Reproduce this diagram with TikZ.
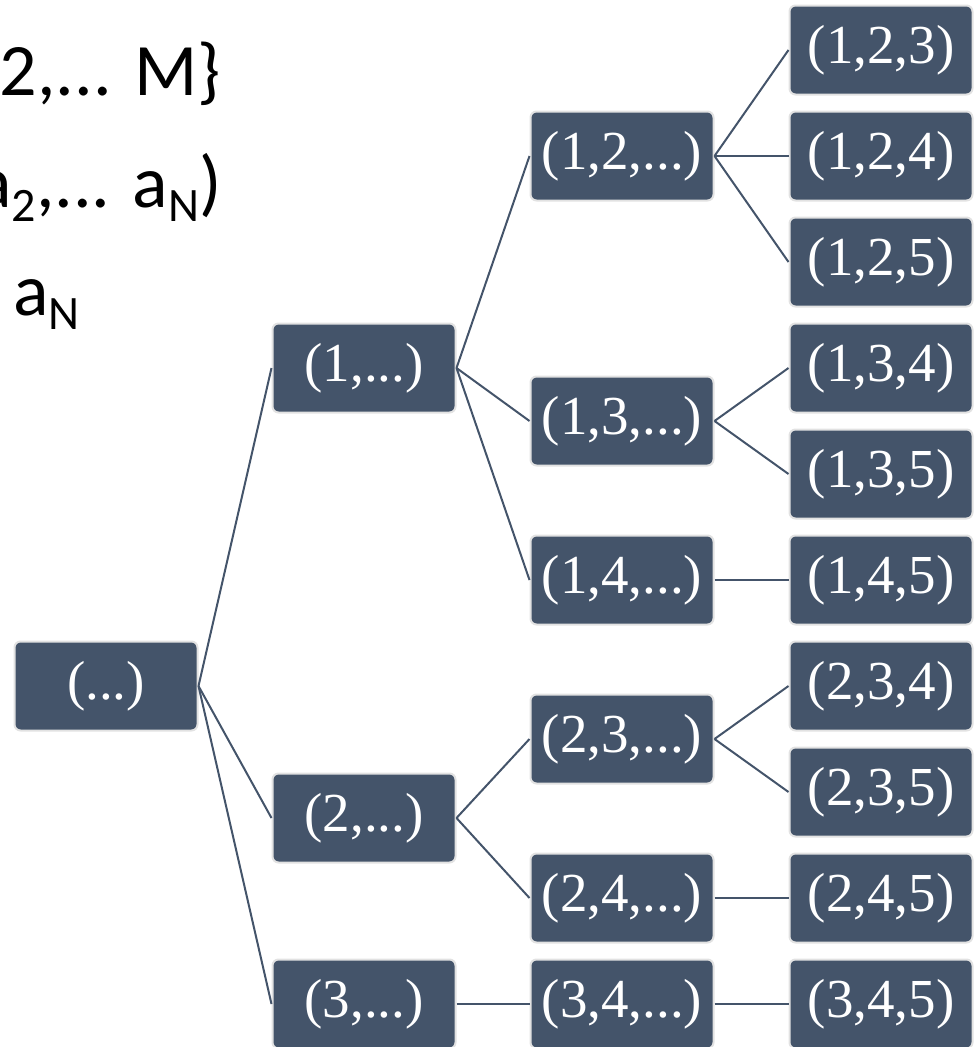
\documentclass[tikz,border=0pt]{standalone}
\usepackage{fontspec}
\setmainfont{Liberation Serif}
\newfontfamily\calib{Carlito}
\definecolor{ardoise}{HTML}{44546A}
\definecolor{bordclair}{HTML}{E2E2E2}
\newcommand\bas[1]{\raisebox{-14pt}{\fontsize{48}{48}\selectfont #1}}

\tikzset{boite/.style={rectangle, rounded corners=6pt, fill=ardoise, draw=bordclair, line width=2pt,
                       minimum width=183pt, minimum height=89pt, inner sep=0pt, text=white,
                       font=\fontsize{55}{60}\selectfont},
         lien/.style={draw=ardoise, line width=2pt},
         texte/.style={inner sep=0pt, font=\calib\fontsize{74}{80}\selectfont}}

\begin{document}
\begin{tikzpicture}[x=1pt, y=-1pt]
            \useasboundingbox (0,0) rectangle (975,1047);
            \clip (0,0) rectangle (975,1047);
            % Texte coupé en haut à gauche
            \node[texte, anchor=base east] (t1) at (221,95) {2,... M\}};
            \node[texte, anchor=base east] (t2) at (222,207) {a\bas{2},... a\bas{N})};
            \node[texte, anchor=base west] (t3) at (13,315) {a\bas{N}};
            
            % Racine et premier niveau
            \node[boite] (R) at (106,686) {(...)};
            \node[boite] (A) at (364,368) {(1,...)};
            \node[boite] (B) at (364,818) {(2,...)};
            \node[boite] (C) at (364,1004) {(3,...)};
            
            % Deuxième niveau
            \node[boite] (A2) at (622,156) {(1,2,...)};
            \node[boite] (A3) at (622,421) {(1,3,...)};
            \node[boite] (A4) at (622,580) {(1,4,...)};
            \node[boite] (B3) at (622,739) {(2,3,...)};
            \node[boite] (B4) at (622,898) {(2,4,...)};
            \node[boite] (C4) at (622,1004) {(3,4,...)};
            
            % Feuilles, pas de 106
            \node[boite] (A23) at (881,50) {(1,2,3)};
            \node[boite] (A24) at (881,156) {(1,2,4)};
            \node[boite] (A25) at (881,262) {(1,2,5)};
            \node[boite] (A34) at (881,368) {(1,3,4)};
            \node[boite] (A35) at (881,474) {(1,3,5)};
            \node[boite] (A45) at (881,580) {(1,4,5)};
            \node[boite] (B34) at (881,686) {(2,3,4)};
            \node[boite] (B35) at (881,792) {(2,3,5)};
            \node[boite] (B45) at (881,898) {(2,4,5)};
            \node[boite] (C45) at (881,1004) {(3,4,5)};
            
            % Les arêtes
            \draw[lien] (R.east) -- (A.west);
            \draw[lien] (R.east) -- (B.west);
            \draw[lien] (R.east) -- (C.west);
            \draw[lien] (A.east) -- (A2.west);
            \draw[lien] (A.east) -- (A3.west);
            \draw[lien] (A.east) -- (A4.west);
            \draw[lien] (B.east) -- (B3.west);
            \draw[lien] (B.east) -- (B4.west);
            \draw[lien] (C.east) -- (C4.west);
            \draw[lien] (A2.east) -- (A23.west);
            \draw[lien] (A2.east) -- (A24.west);
            \draw[lien] (A2.east) -- (A25.west);
            \draw[lien] (A3.east) -- (A34.west);
            \draw[lien] (A3.east) -- (A35.west);
            \draw[lien] (A4.east) -- (A45.west);
            \draw[lien] (B3.east) -- (B34.west);
            \draw[lien] (B3.east) -- (B35.west);
            \draw[lien] (B4.east) -- (B45.west);
            \draw[lien] (C4.east) -- (C45.west);
        \end{tikzpicture}
\end{document}
